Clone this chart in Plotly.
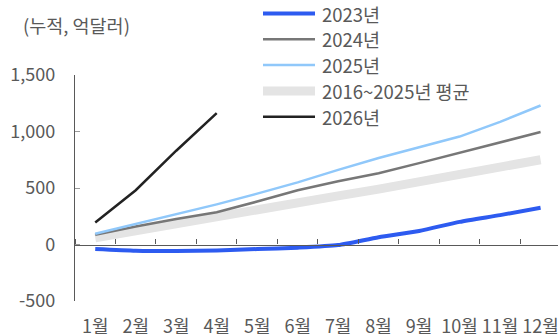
import plotly.graph_objects as go

# Monthly cumulative balance (100 million USD)
months = ["1월", "2월", "3월", "4월", "5월", "6월", "7월", "8월", "9월", "10월", "11월", "12월"]
s2023 = [-40, -55, -58, -52, -40, -28, -5, 65, 120, 200, 260, 325]
s2024 = [85, 160, 225, 285, 380, 480, 560, 630, 720, 810, 900, 995]
s2025 = [95, 180, 265, 355, 450, 550, 660, 765, 860, 955, 1085, 1230]
avg_2016_2025 = [60, 125, 190, 245, 310, 375, 430, 490, 555, 620, 680, 750]
s2026 = [195, 480, 830, 1162]

y_ticks = [-500, 0, 500, 1000, 1500]
y_tick_text = ["-500", "0", "500", "1,000", "1,500"]

FONT = "Noto Sans CJK KR"
TEXT = "#595959"
FS_TICK = 18
FS_TEXT = 18.5
W, H = 558, 334
ML, MR, MT, MB = 75, 0, 75, 33

series = [
    ("2016~2025년 평균", avg_2016_2025, "#E4E4E4", 9, "linear"),
    ("2023년", s2023, "#2D5BF0", 4, "spline"),
    ("2024년", s2024, "#777777", 2.5, "linear"),
    ("2025년", s2025, "#90C8FA", 2.5, "linear"),
    ("2026년", s2026, "#222222", 2.5, "linear"),
]
legend_order = ["2023년", "2024년", "2025년", "2016~2025년 평균", "2026년"]

fig = go.Figure()
for name, vals, color, width, shape in series:
    fig.add_trace(go.Scatter(
        x=months[:len(vals)], y=vals, name=name, mode="lines",
        line=dict(color=color, width=width, shape=shape, smoothing=0.6),
        showlegend=False,
    ))

# helper trace that carries the categories for the zero-line axis
fig.add_trace(go.Scatter(x=months, y=[0] * len(months), xaxis="x2", mode="lines",
                         line=dict(width=0), opacity=0, showlegend=False, hoverinfo="skip"))

pw = W - ML - MR
ph = H - MT - MB


def px_x(px):
    return (px - ML) / pw


def px_y(py):
    return (H - MB - py) / ph


# legend drawn as line samples with labels
shapes = []
annotations = []
style = {name: (color, width) for name, _, color, width, _ in series}
for i, name in enumerate(legend_order):
    cy = 13.5 + i * 25.8
    color, width = style[name]
    shapes.append(dict(type="line", xref="paper", yref="paper",
                       x0=px_x(263), x1=px_x(315), y0=px_y(cy), y1=px_y(cy),
                       line=dict(color=color, width=width)))
    annotations.append(dict(text=name, xref="paper", yref="paper",
                            x=px_x(320), y=px_y(cy), xanchor="left", yanchor="middle",
                            showarrow=False, font=dict(family=FONT, size=FS_TEXT, color=TEXT)))

annotations.append(dict(text="(누적, 억달러)", xref="paper", yref="paper",
                        x=px_x(21), y=px_y(25), xanchor="left", yanchor="middle",
                        showarrow=False, font=dict(family=FONT, size=FS_TEXT, color=TEXT)))

x_range = [-0.5, 11.43]
fig.update_layout(
    width=W, height=H,
    margin=dict(l=ML, r=MR, t=MT, b=MB, pad=0),
    paper_bgcolor="white", plot_bgcolor="white",
    font=dict(family=FONT, size=FS_TICK, color=TEXT),
    showlegend=False,
    shapes=shapes,
    annotations=annotations,
    xaxis=dict(type="category", categoryorder="array", categoryarray=months,
               range=x_range, showgrid=False, showline=False, zeroline=False,
               ticks="", ticklabelstandoff=13, tickangle=0, automargin=False,
               tickfont=dict(size=FS_TICK, color=TEXT)),
    xaxis2=dict(type="category", categoryorder="array", categoryarray=months,
                range=x_range, overlaying="x", anchor="free", position=0.25,
                side="top", showgrid=False, zeroline=False, showline=True,
                linecolor=TEXT, linewidth=1.3, ticks="outside", ticklen=5,
                tickwidth=1.3, tickcolor=TEXT, tickson="boundaries",
                showticklabels=False, automargin=False),
    yaxis=dict(range=[-500, 1500], tickvals=y_ticks, ticktext=y_tick_text,
               showgrid=False, zeroline=False, showline=True, linecolor=TEXT,
               linewidth=1.3, ticks="inside", ticklen=5, tickwidth=1.3,
               tickcolor="#9a9a9a", ticklabelstandoff=15, automargin=False,
               tickfont=dict(size=FS_TICK, color=TEXT)),
)

fig.write_html("out.html")
